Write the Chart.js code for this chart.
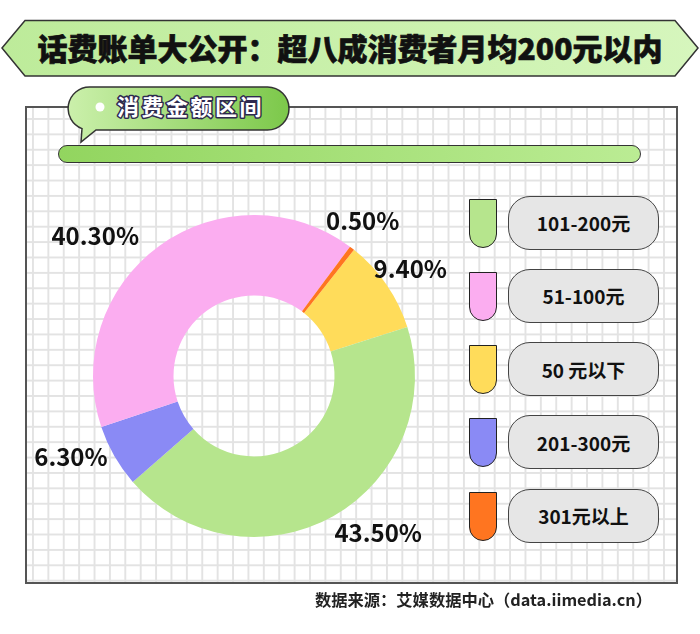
<!DOCTYPE html>
<html>
<head>
<meta charset="utf-8">
<script src="https://cdn.jsdelivr.net/npm/chart.js@4"></script>
<style>
  body { margin: 0; background: #fff; font-family: 'Noto Sans CJK SC', sans-serif; }
  #page { position: relative; width: 700px; height: 634px; overflow: hidden; }
  .abs { position: absolute; }
  #panel {
    left: 25px; top: 106px; width: 649px; height: 474px;
    border: 2px solid #555;
    background-color: #fff;
    background-image:
      linear-gradient(to right, #e3e3e3 2px, transparent 2px),
      linear-gradient(to bottom, #e3e3e3 2px, transparent 2px);
    background-size: 15.4px 15.4px;
    background-position: 5px 10px;
  }
  #bar {
    left: 58px; top: 145px; width: 581px; height: 16px;
    border: 1.5px solid #333; border-radius: 10px;
    background: linear-gradient(to right, #92d55f, #bbec94);
  }
  #chart { left: 0; top: 0; }
  .swatch {
    position: absolute; left: 469px; width: 26px; height: 47px;
    border: 1.5px solid #222; border-radius: 0 0 14px 14px;
  }
  .lbox {
    position: absolute; left: 508px; width: 149px; height: 52px;
    border: 1.5px solid #444; border-radius: 22px; background: #e6e6e6;
    display: flex; align-items: center; justify-content: center;
    font-size: 19px; font-weight: bold; color: #111;
  }
  #source {
    right: 48px; top: 587px; font-size: 16.3px; font-weight: bold; color: #222;
    white-space: nowrap;
  }
</style>
</head>
<body>
<div id="page">
  <svg class="abs" style="left:0;top:0" width="700" height="90">
    <defs>
      <linearGradient id="tg" x1="0" x2="1" y1="0" y2="0">
        <stop offset="0" stop-color="#bdeb9a"/>
        <stop offset="1" stop-color="#d6f6bd"/>
      </linearGradient>
      <linearGradient id="sg" x1="0" x2="1" y1="0" y2="0">
        <stop offset="0" stop-color="#cbf0ab"/>
        <stop offset="1" stop-color="#7cc84a"/>
      </linearGradient>
    </defs>
    <polygon points="2,48 25,20.5 675,20.5 698,48 675,76 25,76" fill="url(#tg)" stroke="#333" stroke-width="1.5"/>
    <text x="350" y="60" text-anchor="middle" font-family="Noto Sans CJK SC" font-weight="900" font-size="30"
          fill="#111" stroke="#111" stroke-width="0.7">话费账单大公开：超八成消费者月均200元以内</text>
  </svg>

  <div id="panel" class="abs"></div>
  <div id="bar" class="abs"></div>

  <svg class="abs" style="left:0;top:0" width="320" height="150">
    <path d="M 89.5 87 H 267.5 A 21.5 21.5 0 0 1 267.5 130 H 96 L 81 142 L 82 128.6 A 21.5 21.5 0 0 1 89.5 87 Z"
          fill="url(#sg)" stroke="#333" stroke-width="1.5"/>
    <circle cx="100" cy="107" r="4.5" fill="#fff"/>
    <text x="117" y="115" font-family="Noto Sans CJK SC" font-weight="bold" font-size="22" letter-spacing="2.5"
          fill="#fff" stroke="#2e2a4f" stroke-width="3" paint-order="stroke" stroke-linejoin="round">消费金额区间</text>
  </svg>

  <canvas id="chart" class="abs" width="700" height="634"></canvas>
  <div id="legend"></div>
  <div id="source" class="abs">数据来源：艾媒数据中心（data.iimedia.cn）</div>
</div>

<script>
// slices in drawing order (clockwise from the top-right)
const categories = ['50 元以下', '101-200元', '201-300元', '51-100元', '301元以上'];
const shares = [9.4, 43.5, 6.3, 40.3, 0.5];
const sliceColors = ['#ffdc5a', '#b6e58d', '#8a8af5', '#fbadf0', '#ff7520'];
const legendOrder = ['101-200元', '51-100元', '50 元以下', '201-300元', '301元以上'];

// label nudges: extra turn in degrees and distance as a share of the radius
const labelPlace = [
  { turn: 0, dist: 1.18 },
  { turn: -9, dist: 1.24 },
  { turn: 6.3, dist: 1.24 },
  { turn: -12.4, dist: 1.32 },
  { turn: -2.6, dist: 1.18 }
];

// legend
const legend = document.getElementById('legend');
legendOrder.forEach((name, i) => {
  const top = 195.5 + i * 73.3;
  const k = categories.indexOf(name);
  const sw = document.createElement('div');
  sw.className = 'swatch';
  sw.style.top = (top + 3) + 'px';
  sw.style.background = sliceColors[k];
  legend.appendChild(sw);
  const box = document.createElement('div');
  box.className = 'lbox';
  box.style.top = top + 'px';
  box.textContent = name;
  legend.appendChild(box);
});

const pctLabels = {
  id: 'pctLabels',
  afterDatasetsDraw(chart) {
    const ctx = chart.ctx;
    const arcs = chart.getDatasetMeta(0).data;
    ctx.save();
    ctx.font = 'bold 24px "Noto Sans CJK SC"';
    ctx.fillStyle = '#111';
    ctx.textAlign = 'center';
    ctx.textBaseline = 'middle';
    arcs.forEach((arc, i) => {
      const p = labelPlace[i];
      const a = (arc.startAngle + arc.endAngle) / 2 + p.turn * Math.PI / 180;
      const r = arc.outerRadius * p.dist;
      ctx.fillText(shares[i].toFixed(2) + '%', arc.x + Math.cos(a) * r, arc.y + Math.sin(a) * r + 1);
    });
    ctx.restore();
  }
};

new Chart(
  document.getElementById('chart'),
  {
    type: 'doughnut',
    data: {
      labels: categories,
      datasets: [{
        data: shares,
        backgroundColor: sliceColors,
        borderWidth: 0,
        hoverOffset: 0
      }]
    },
    options: {
      responsive: false,
      animation: false,
      cutout: '50%',
      rotation: 38.4,
      layout: { padding: { left: 93, right: 285, top: 215, bottom: 97 } },
      plugins: {
        legend: { display: false },
        tooltip: { enabled: false }
      }
    },
    plugins: [pctLabels]
  }
);
</script>
</body>
</html>
